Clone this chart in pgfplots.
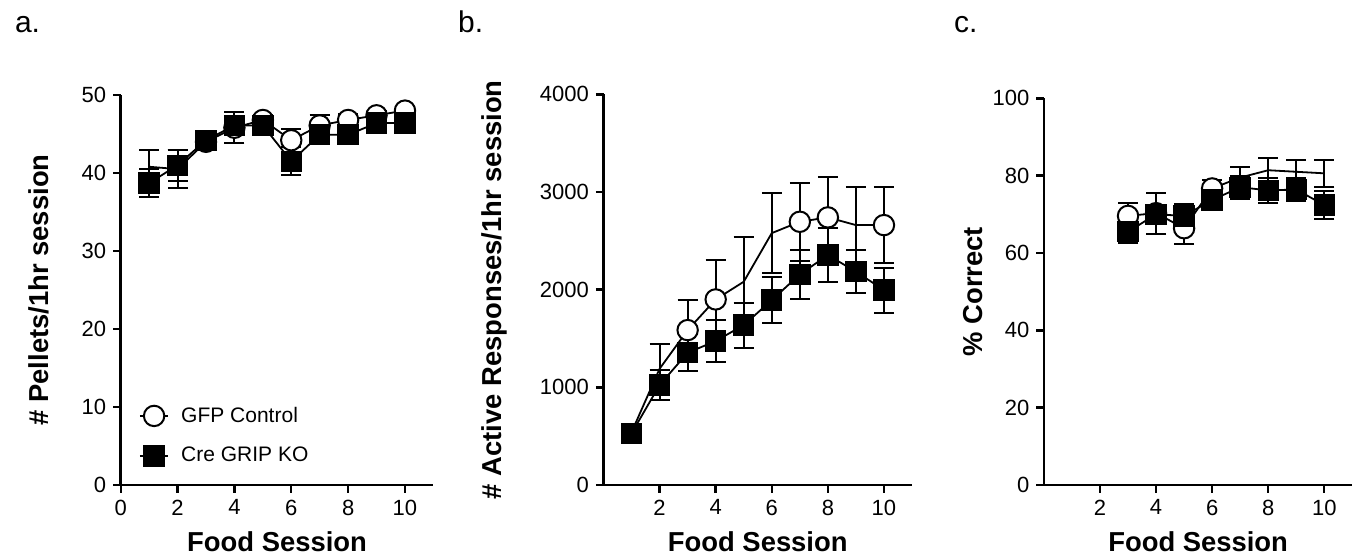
\documentclass[border=0pt]{standalone}
\usepackage{fontspec}
\setmainfont{Liberation Sans}
\usepackage{pgfplots}
\usepackage{pgfplotstable}
\pgfplotsset{compat=1.18}

% session, mean, sem
\pgfplotstableread{
x y e
1 40.8 2.1
2 40.5 2.4
3 44.0 0.8
4 45.8 2.0
5 46.8 0.7
6 44.2 1.5
7 46.1 1.3
8 46.8 0.8
9 47.4 0.6
10 48.0 0.5
}\pelGFP
\pgfplotstableread{
x y e
1 38.7 1.8
2 41.0 2.0
3 44.2 0.8
4 46.1 0.7
5 46.1 0.8
6 41.5 1.8
7 44.9 1.2
8 44.9 1.2
9 46.4 0.6
10 46.4 0.6
}\pelCre
\pgfplotstableread{
x y e
1 540 40
2 1190 250
3 1586 310
4 1900 400
5 2081 460
6 2579 410
7 2695 400
8 2740 415
9 2661 390
10 2661 390
}\actGFP
\pgfplotstableread{
x y e
1 529 40
2 1024 150
3 1354 190
4 1474 215
5 1637 230
6 1893 235
7 2156 250
8 2354 280
9 2184 220
10 1996 230
}\actCre
\pgfplotstableread{
x y e
3 69.6 3.3
4 70.3 5.3
5 66.4 4.0
6 76.7 2.3
7 79.5 2.7
8 81.4 3.1
9 81.0 3.0
10 80.6 3.5
}\corGFP
\pgfplotstableread{
x y e
3 65.5 3.0
4 70.0 2.5
5 69.6 3.0
6 73.7 2.0
7 77.0 3.0
8 76.2 3.3
9 76.4 3.0
10 72.4 3.7
}\corCre

\pgfplotsset{
  panel/.style={
    scale only axis,
    anchor=south west,
    axis x line*=bottom, axis y line*=left,
    axis line style={line width=1.25pt},
    tick align=outside,
    major tick length=3.8pt,
    tick style={line width=1.2pt, black},
    xmin=0, xmax=11, ymin=0,
    scaled y ticks=false,
    /pgf/number format/assume math mode=true,
    /pgf/number format/1000 sep={},
    tick label style={font=\fontsize{11}{13}\selectfont},
    label style={font=\fontsize{13.7}{16}\selectfont\bfseries},
    xlabel={Food Session},
    xlabel style={anchor=center},
  },
  ebar/.style={error bars/.cd, y dir=both, y explicit,
    error bar style={line width=1pt, black},
    error mark options={rotate=90, mark size=5pt, line width=1pt, black}},
  gfpline/.style={black, line width=0.9pt, no markers, forget plot, ebar},
  gfpmark/.style={only marks, mark=*, mark size=5.1pt,
    mark options={fill=white, draw=black, line width=1pt}, forget plot},
  creline/.style={black, line width=0.9pt, mark=square*, mark size=5.1pt,
    mark options={fill=black, draw=black, line width=0.5pt}, forget plot, ebar},
}

\begin{document}
\begin{tikzpicture}
\path[use as bounding box] (0pt,0pt) rectangle (679pt,279.5pt);

\node[anchor=base west, font=\fontsize{15}{18}\selectfont] at (4pt,263.5pt) {a.};
\node[anchor=base west, font=\fontsize{15}{18}\selectfont] at (225.5pt,263.5pt) {b.};
\node[anchor=base west, font=\fontsize{15}{18}\selectfont] at (473.5pt,263.5pt) {c.};

% a. pellets
\begin{axis}[panel, at={(60.35pt,37pt)}, width=156.35pt, height=195pt,
  ymax=50, ytick={0,10,...,50}, xtick={0,2,...,10},
  ylabel={\# Pellets/1hr session},
  ylabel style={at={(axis description cs:-0.261,0.5)}, anchor=center},
  xlabel style={at={(axis description cs:0.5,-0.146)}},
  legend style={at={(axis description cs:0.038,0.222)}, anchor=north west,
    draw=none, fill=none, font=\fontsize{10.5}{12}\selectfont,
    row sep=7pt, legend cell align=left,
    /tikz/every odd column/.append style={column sep=4pt}},
  legend image code/.code={\draw[mark repeat=2,mark phase=2]
    plot coordinates {(0cm,0cm) (0.25cm,0cm) (0.5cm,0cm)};},
]
\addlegendimage{black, line width=0.9pt, mark=*, mark size=5.1pt,
  mark options={fill=white, draw=black, line width=1pt}}
\addlegendentry{GFP Control}
\addlegendimage{black, line width=0.9pt, mark=square*, mark size=5.1pt,
  mark options={fill=black}}
\addlegendentry{Cre GRIP KO}
\addplot[gfpline] table[x=x, y=y, y error=e] {\pelGFP};
\addplot[gfpmark, mark indices={3,...,10}] table[x=x, y=y] {\pelGFP};
\addplot[creline] table[x=x, y=y, y error=e] {\pelCre};
\end{axis}

% b. active responses
\begin{axis}[panel, at={(301.75pt,37pt)}, width=154.25pt, height=195.35pt,
  ymax=4000, ytick={0,1000,...,4000}, xtick={2,4,...,10},
  ylabel={\# Active Responses/1hr session},
  ylabel style={at={(axis description cs:-0.352,0.5)}, anchor=center},
  xlabel style={at={(axis description cs:0.5,-0.146)}},
]
\addplot[gfpline] table[x=x, y=y, y error=e] {\actGFP};
\addplot[gfpmark, mark indices={3,4,7,8,10}] table[x=x, y=y] {\actGFP};
\addplot[creline] table[x=x, y=y, y error=e] {\actCre};
\end{axis}

% c. percent correct
\begin{axis}[panel, at={(521.95pt,37pt)}, width=154.2pt, height=193.35pt,
  ymax=100, ytick={0,20,...,100}, xtick={2,4,...,10},
  ylabel={\% Correct},
  ylabel style={at={(axis description cs:-0.230,0.5)}, anchor=center},
  xlabel style={at={(axis description cs:0.5,-0.147)}},
]
\addplot[gfpline] table[x=x, y=y, y error=e] {\corGFP};
\addplot[gfpmark, mark indices={1,2,3,4}] table[x=x, y=y] {\corGFP};
\addplot[creline] table[x=x, y=y, y error=e] {\corCre};
\end{axis}
\end{tikzpicture}
\end{document}
